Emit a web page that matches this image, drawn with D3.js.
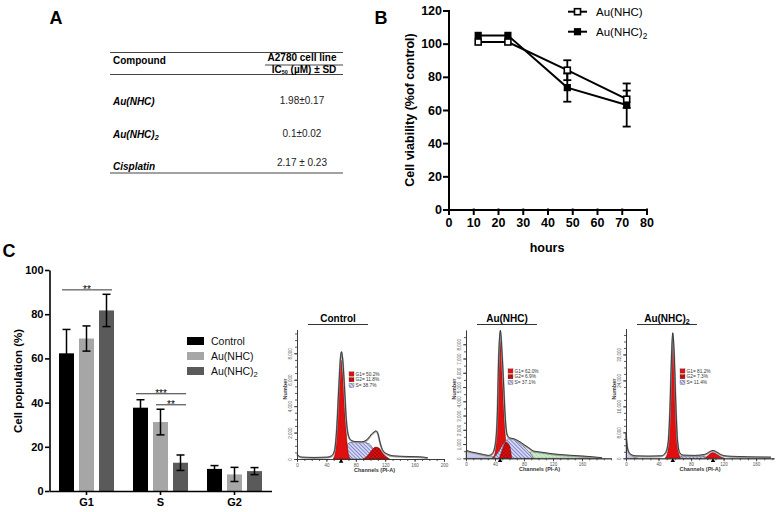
<!DOCTYPE html>
<html>
<head>
<meta charset="utf-8">
<script src="https://cdn.jsdelivr.net/npm/d3@7"></script>
<style>
  body { margin: 0; background: #fff; }
  svg { font-family: "Liberation Sans", Arial, sans-serif; }
</style>
</head>
<body>
<svg id="fig" width="780" height="512"></svg>
<script>
// ---------- panel A : IC50 table
var compounds = ["Au(NHC)", "Au(NHC)2", "Cisplatin"];
var ic50 = ["1.98±0.17", "0.1±0.02", "2.17 ± 0.23"];

// ---------- panel B : viability over time
var hours = [12, 24, 48, 72];
var viabNHC = [101, 101, 84, 66.5];
var viabNHCerr = [0, 0, 6, 5.2];
var viabNHC2 = [105, 105, 73.5, 63];
var viabNHC2err = [0, 0, 8.5, 13];
var ticksBx = [0, 10, 20, 30, 40, 50, 60, 70, 80];
var ticksBy = [0, 20, 40, 60, 80, 100, 120];

// ---------- panel C : cell cycle distribution
var phases = ["G1", "S", "G2"];
var treatments = ["Control", "Au(NHC)", "Au(NHC)2"];
var popControl = [62.3, 37.7, 10];
var popNHC = [69, 31.2, 7.5];
var popNHC2 = [81.7, 12.8, 9];
var errControl = [10.8, 3.6, 1.5];
var errNHC = [5.7, 5.8, 3.2];
var errNHC2 = [7.3, 3.5, 1.6];
var ticksCy = [0, 20, 40, 60, 80, 100];
// phase, from, to, height (%), stars
var sigMarks = [
  ["G1", "Control", "Au(NHC)2", 91, "**"],
  ["S", "Control", "Au(NHC)2", 44, "***"],
  ["S", "Au(NHC)", "Au(NHC)2", 39, "**"]
];

// ---------- flow cytometry histograms, [channel, count]
var ctrlEnvelope = [[0,350],[2,200],[7,100],[23,75],[41,100],[47,200],[51,580],[54,2200],[57,5500],[59,7500],[60.5,8080],[62,7600],[64.5,5500],[67,3000],[69.5,1840],[73,1410],[79,1280],[88,1260],[96,1460],[101.5,1840],[105,2010],[107.5,2090],[110,1910],[113,1210],[117,580],[123,330],[131,200],[149,150],[167,125],[178,50]];
var ctrlG1 = [[49,0],[52,450],[55,2970],[58,6240],[60,7500],[62,6500],[64.5,3980],[67,1960],[69,700],[71,150],[73,0]];
var ctrlS = [[58.7,0],[65.5,580],[70,1200],[74.5,1260],[90,1260],[98,1160],[106,580],[113,150],[117,0]];
var ctrlG2 = [[90,0],[96,250],[101.5,650],[107,900],[111.5,830],[116.5,450],[122,150],[126,0]];
var ctrlPct = ["G1= 50.2%", "G2= 11.8%", "S= 38.7%"];

var nhcEnvelope = [[0,540],[3,470],[13,350],[24,230],[31,165],[36,280],[40,820],[43,2690],[45,6900],[47.4,8930],[49.7,7360],[52,5030],[54.3,2690],[56.6,1640],[60,1400],[66,1330],[72.7,1170],[79.6,935],[86.5,700],[93.4,470],[102.6,400],[118.7,280],[146,165],[174,70],[187.7,0]];
var nhcG1 = [[36,0],[40,350],[43,2690],[45,5500],[47.4,8300],[49.7,5960],[52,3390],[54.3,1520],[56.6,470],[59,0]];
var nhcS = [[38,0],[45,470],[52,1050],[59,1380],[66,1330],[72.7,1100],[82,700],[88.8,350],[93.4,0]];
var nhcG2 = [[46,0],[50,600],[55,1150],[60,900],[63,0]];
var nhcDebris = [[0,540],[3,470],[13,350],[24,230],[33.6,165],[40,70],[43,0]];
var nhcAggr = [[82,0],[86.5,350],[92,470],[102.6,400],[118.7,280],[146,165],[174,70],[185,0]];
var nhcPct = ["G1= 62.0%", "G2= 6.9%", "S= 37.1%"];

var nhc2Envelope = [[0,7700],[1.2,4100],[2.9,2050],[6.1,1030],[11,620],[27.3,510],[43.7,620],[48.6,1540],[51.8,4620],[53.9,13850],[55.9,30270],[57.5,38500],[59.2,32300],[61.2,16900],[63.2,5640],[66.1,1540],[70.2,820],[84.5,720],[96.7,1030],[102.8,1850],[106.9,2260],[111,1850],[116.3,1030],[125.3,510],[149.7,310],[178.3,205]];
var nhc2G1 = [[47.7,0],[51,1540],[53.4,9750],[55.9,27200],[57.5,35900],[59.2,30300],[61.6,13850],[64,3080],[66.5,300],[67.3,0]];
var nhc2S = [[64,0],[68,720],[92.6,620],[100.8,300],[103,0]];
var nhc2G2 = [[97.5,0],[101.6,1030],[106.9,1750],[111,1330],[116.3,510],[121.2,0]];
var nhc2Debris = [[0,7180],[1.6,3590],[3.7,1740],[6.9,720],[11,300],[15.1,0]];
var nhc2Pct = ["G1= 81.2%", "G2= 7.3%", "S= 11.4%"];

var svg = d3.select("#fig");

// "Au(NHC)2" -> Au(NHC) with subscript 2
function addLabel(sel, label) {
  var m = /^(.*\))2$/.exec(label);
  if (m) {
    sel.text(m[1]);
    sel.append("tspan").attr("font-size", "0.72em").attr("dy", "0.35em").text("2");
  } else {
    sel.text(label);
  }
  return sel;
}

// patterns for the histogram fills
var defs = svg.append("defs");
var pBlue = defs.append("pattern").attr("id", "hatchBlue").attr("width", 2.6).attr("height", 2.6)
  .attr("patternUnits", "userSpaceOnUse").attr("patternTransform", "rotate(-45)");
pBlue.append("rect").attr("width", 2.6).attr("height", 2.6).attr("fill", "#d4d6f2");
pBlue.append("line").attr("x1", 0).attr("y1", 0).attr("x2", 0).attr("y2", 2.6).attr("stroke", "#3b45b0").attr("stroke-width", 1);
var pRed = defs.append("pattern").attr("id", "crossRed").attr("width", 2.6).attr("height", 2.6)
  .attr("patternUnits", "userSpaceOnUse").attr("patternTransform", "rotate(45)");
pRed.append("rect").attr("width", 2.6).attr("height", 2.6).attr("fill", "#e01010");
pRed.append("line").attr("x1", 0).attr("y1", 0).attr("x2", 0).attr("y2", 2.6).attr("stroke", "#7a0000").attr("stroke-width", 0.8);
pRed.append("line").attr("x1", 0).attr("y1", 0).attr("x2", 2.6).attr("y2", 0).attr("stroke", "#7a0000").attr("stroke-width", 0.8);
var pGreen = defs.append("pattern").attr("id", "hatchGreen").attr("width", 2.6).attr("height", 2.6)
  .attr("patternUnits", "userSpaceOnUse").attr("patternTransform", "rotate(-45)");
pGreen.append("rect").attr("width", 2.6).attr("height", 2.6).attr("fill", "#cdeecb");
pGreen.append("line").attr("x1", 0).attr("y1", 0).attr("x2", 0).attr("y2", 2.6).attr("stroke", "#7cc47a").attr("stroke-width", 0.8);

// panel letters
[["A", 56, 24], ["B", 381, 24], ["C", 9, 257]].forEach(function (p) {
  svg.append("text").attr("x", p[1]).attr("y", p[2]).attr("text-anchor", "middle")
    .attr("font-size", 18).attr("font-weight", "bold").text(p[0]);
});

// ================= panel A
var gA = svg.append("g");
var rowY = d3.scalePoint().domain(compounds).range([105, 170]);
[[110, 343, 52.5], [265, 343, 65], [110, 343, 74.5], [110, 343, 173]].forEach(function (l) {
  gA.append("line").attr("x1", l[0]).attr("x2", l[1]).attr("y1", l[2]).attr("y2", l[2])
    .attr("stroke", "#444").attr("stroke-width", 1);
});
gA.append("text").attr("x", 113).attr("y", 64).attr("font-size", 10).attr("font-weight", "bold").text("Compound");
gA.append("text").attr("x", 302).attr("y", 61).attr("text-anchor", "middle")
  .attr("font-size", 10).attr("font-weight", "bold").text("A2780 cell line");
var icHead = gA.append("text").attr("x", 304).attr("y", 72.5).attr("text-anchor", "middle")
  .attr("font-size", 10).attr("font-weight", "bold");
icHead.append("tspan").text("IC");
icHead.append("tspan").attr("font-size", 5.5).attr("dy", 1).text("50");
icHead.append("tspan").attr("dy", -1).text(" (µM) ± SD");
compounds.forEach(function (c, i) {
  addLabel(gA.append("text").attr("x", 113).attr("y", rowY(c))
    .attr("font-size", 10).attr("font-weight", "bold").attr("font-style", "italic"), c);
  gA.append("text").attr("x", 302).attr("y", rowY(c) - (i === 2 ? 4 : 1)).attr("text-anchor", "middle")
    .attr("font-size", 10).attr("fill", "#222").text(ic50[i]);
});

// ================= panel B
var xB = d3.scaleLinear().domain([0, 80]).range([448.5, 646.5]);
var yB = d3.scaleLinear().domain([0, 120]).range([209.5, 10.5]);
var gB = svg.append("g");
gB.append("g").attr("transform", "translate(0,209.5)")
  .call(d3.axisBottom(xB).tickValues(ticksBx).tickSize(4.5).tickPadding(4.5).tickSizeOuter(0));
gB.append("g").attr("transform", "translate(448.5,0)")
  .call(d3.axisLeft(yB).tickValues(ticksBy).tickSize(4.5).tickPadding(2).tickSizeOuter(0));
gB.selectAll(".domain, .tick line").attr("stroke", "#000").attr("stroke-width", 2).attr("stroke-linecap", "square");
gB.selectAll(".tick text").attr("font-size", 12.5).attr("font-weight", "bold")
  .attr("font-family", "Liberation Sans, Arial, sans-serif").attr("fill", "#000");
gB.append("text").attr("x", 547).attr("y", 252).attr("text-anchor", "middle")
  .attr("font-size", 12.5).attr("font-weight", "bold").text("hours");
gB.append("text").attr("transform", "translate(414,110) rotate(-90)").attr("text-anchor", "middle")
  .attr("font-size", 12.5).attr("font-weight", "bold").text("Cell viability (%of control)");

var seriesB = [
  { name: "Au(NHC)2", vals: viabNHC2, err: viabNHC2err, open: false },
  { name: "Au(NHC)", vals: viabNHC, err: viabNHCerr, open: true }
];
var lineB = d3.line().x(function (d, i) { return xB(hours[i]); }).y(function (d) { return yB(d); });
seriesB.forEach(function (s) {
  gB.append("path").datum(s.vals).attr("d", lineB).attr("fill", "none").attr("stroke", "#000").attr("stroke-width", 2);
});
seriesB.forEach(function (s) {
  s.vals.forEach(function (v, i) {
    if (!s.err[i]) return;
    var cx = xB(hours[i]), y1 = yB(v - s.err[i]), y2 = yB(v + s.err[i]);
    gB.append("line").attr("x1", cx).attr("x2", cx).attr("y1", y1).attr("y2", y2).attr("stroke", "#000").attr("stroke-width", 1.8);
    [y1, y2].forEach(function (yy) {
      gB.append("line").attr("x1", cx - 4).attr("x2", cx + 4).attr("y1", yy).attr("y2", yy).attr("stroke", "#000").attr("stroke-width", 1.8);
    });
  });
});
function markerB(g, cx, cy, open) {
  if (open) {
    g.append("rect").attr("x", cx - 3).attr("y", cy - 3).attr("width", 6).attr("height", 6)
      .attr("fill", "#fff").attr("stroke", "#000").attr("stroke-width", 1.6);
  } else {
    g.append("rect").attr("x", cx - 3.6).attr("y", cy - 3.6).attr("width", 7.2).attr("height", 7.2).attr("fill", "#000");
  }
}
seriesB.forEach(function (s) {
  s.vals.forEach(function (v, i) { markerB(gB, xB(hours[i]), yB(v), s.open); });
});
// legend B
[seriesB[1], seriesB[0]].forEach(function (s, i) {
  var ly = 11.7 + i * 20;
  gB.append("line").attr("x1", 568).attr("x2", 587).attr("y1", ly).attr("y2", ly).attr("stroke", "#000").attr("stroke-width", 2);
  markerB(gB, 577.5, ly, s.open);
  addLabel(gB.append("text").attr("x", 596).attr("y", ly + 4).attr("font-size", 11.5), s.name);
});

// ================= panel C
var xC = d3.scaleBand().domain(phases).range([49.5, 271.5]);
var xC1 = d3.scaleBand().domain(treatments).range([0, 55]).paddingInner(0.25);
var yC = d3.scaleLinear().domain([0, 100]).range([491, 270]);
var colorC = d3.scaleOrdinal().domain(treatments).range(["#000000", "#a6a6a6", "#5a5a5a"]);
var popC = { "Control": popControl, "Au(NHC)": popNHC, "Au(NHC)2": popNHC2 };
var errC = { "Control": errControl, "Au(NHC)": errNHC, "Au(NHC)2": errNHC2 };
var groupOff = (xC.bandwidth() - 55) / 2;
function barX(p, t) { return xC(p) + groupOff + xC1(t); }

var gC = svg.append("g");
phases.forEach(function (p, i) {
  treatments.forEach(function (t) {
    var v = popC[t][i];
    gC.append("rect").attr("x", barX(p, t)).attr("y", yC(v)).attr("width", xC1.bandwidth())
      .attr("height", yC(0) - yC(v)).attr("fill", colorC(t));
  });
});
phases.forEach(function (p, i) {
  treatments.forEach(function (t) {
    var v = popC[t][i], e = errC[t][i];
    var cx = barX(p, t) + xC1.bandwidth() / 2;
    gC.append("line").attr("x1", cx).attr("x2", cx).attr("y1", yC(v - e)).attr("y2", yC(v + e)).attr("stroke", "#000").attr("stroke-width", 1.5);
    [v - e, v + e].forEach(function (vv) {
      gC.append("line").attr("x1", cx - 4).attr("x2", cx + 4).attr("y1", yC(vv)).attr("y2", yC(vv)).attr("stroke", "#000").attr("stroke-width", 1.5);
    });
  });
});
gC.append("g").attr("transform", "translate(0,491)")
  .call(d3.axisBottom(xC).tickSize(4).tickPadding(3).tickSizeOuter(0));
gC.append("g").attr("transform", "translate(49.5,0)")
  .call(d3.axisLeft(yC).tickValues(ticksCy).tickSize(4.5).tickPadding(1.5).tickSizeOuter(0));
gC.selectAll(".domain, .tick line").attr("stroke", "#000").attr("stroke-width", 1.6);
gC.selectAll(".tick text").attr("font-size", 11).attr("font-weight", "bold")
  .attr("font-family", "Liberation Sans, Arial, sans-serif").attr("fill", "#000");
gC.append("text").attr("transform", "translate(22,381) rotate(-90)").attr("text-anchor", "middle")
  .attr("font-size", 11.5).attr("font-weight", "bold").text("Cell population (%)");
// significance brackets
sigMarks.forEach(function (s) {
  var x1 = barX(s[0], s[1]) + 3, x2 = barX(s[0], s[2]) + xC1.bandwidth() - 2, yy = yC(s[3]);
  gC.append("line").attr("x1", x1).attr("x2", x2).attr("y1", yy).attr("y2", yy).attr("stroke", "#333").attr("stroke-width", 1);
  gC.append("text").attr("x", (x1 + x2) / 2).attr("y", yy + 3).attr("text-anchor", "middle")
    .attr("font-size", 10).attr("fill", "#000").text(s[4]);
});
// legend C
treatments.forEach(function (t, i) {
  var ly = 341 + i * 15;
  gC.append("rect").attr("x", 187).attr("y", ly - 4).attr("width", 17).attr("height", 8).attr("fill", colorC(t));
  addLabel(gC.append("text").attr("x", 211).attr("y", ly + 3.7).attr("font-size", 10.5).attr("fill", "#111"), t);
});

// ================= flow cytometry histograms
function drawHist(h) {
  var x = d3.scaleLinear().domain(h.xDomain).range(h.xRange);
  var y = d3.scaleLinear().domain(h.yDomain).range(h.yRange);
  var g = svg.append("g");
  var base = h.yRange[0];

  var area = d3.area().curve(d3.curveMonotoneX)
    .x(function (d) { return x(d[0]); }).y0(base).y1(function (d) { return y(d[1]); });
  h.parts.forEach(function (p) {
    g.append("path").datum(p[0]).attr("d", area).attr("fill", p[1])
      .attr("stroke", p[2]).attr("stroke-width", 0.5);
  });
  var line = d3.line().curve(d3.curveMonotoneX)
    .x(function (d) { return x(d[0]); }).y(function (d) { return y(d[1]); });
  g.append("path").datum(h.envelope).attr("d", line).attr("fill", "none").attr("stroke", "#9a9a9a").attr("stroke-width", 1.8);
  g.append("path").datum(h.envelope).attr("d", line).attr("transform", "translate(0,-0.6)")
    .attr("fill", "none").attr("stroke", "#111").attr("stroke-width", 0.7);

  // axes: minor ticks, then labelled ticks
  var ax = g.append("g").attr("transform", "translate(0," + base + ")");
  ax.call(d3.axisBottom(x).tickValues(d3.range(h.xDomain[0], h.xDomain[1] + 0.1, 10)).tickSize(2).tickFormat("").tickSizeOuter(0));
  var axM = g.append("g").attr("transform", "translate(0," + base + ")");
  axM.call(d3.axisBottom(x).tickValues(h.xTicks).tickSize(3).tickPadding(2).tickSizeOuter(0));
  var ay = g.append("g").attr("transform", "translate(" + h.xRange[0] + ",0)");
  ay.call(d3.axisLeft(y).tickValues(d3.range(0, h.yDomain[1], h.yMinor)).tickSize(2).tickFormat("").tickSizeOuter(0));
  var ayM = g.append("g").attr("transform", "translate(" + h.xRange[0] + ",0)");
  ayM.call(d3.axisLeft(y).tickValues(h.yTicks).tickSize(3).tickSizeOuter(0));
  ayM.selectAll(".tick text").attr("x", 0).attr("dy", 0).attr("text-anchor", "middle")
    .attr("transform", "translate(-5,0) rotate(-90)");
  g.selectAll(".domain, .tick line").attr("stroke", "#333").attr("stroke-width", 0.8);
  g.selectAll(".tick text").attr("font-size", 4.5).attr("fill", "#555")
    .attr("font-family", "Liberation Sans, Arial, sans-serif");

  // G1 / G2 markers under the axis
  h.marks.forEach(function (m) {
    g.append("path").attr("d", d3.symbol(d3.symbolTriangle).size(9)())
      .attr("transform", "translate(" + x(m) + "," + (base + 2.5) + ")").attr("fill", "#000");
  });

  var midX = (h.xRange[0] + h.xRange[1]) / 2;
  g.append("text").attr("x", midX + h.labelShift).attr("y", base + 13).attr("text-anchor", "middle")
    .attr("font-size", 5.5).attr("font-weight", "bold").attr("fill", "#333").text("Channels (PI-A)");
  g.append("text").attr("transform", "translate(" + (h.xRange[0] - 10) + ",389) rotate(-90)")
    .attr("text-anchor", "middle").attr("font-size", 5.5).attr("font-weight", "bold").attr("fill", "#333").text("Number");

  // title with underline
  addLabel(g.append("text").attr("x", h.title[1]).attr("y", 321.5).attr("text-anchor", "middle")
    .attr("font-size", 10).attr("font-weight", "bold"), h.title[0]);
  g.append("line").attr("x1", h.title[1] - 30).attr("x2", h.title[1] + 30).attr("y1", 324.5).attr("y2", 324.5)
    .attr("stroke", "#333").attr("stroke-width", 1);

  // phase legend
  var fills = ["#e01010", "url(#crossRed)", "url(#hatchBlue)"];
  h.pct.forEach(function (t, i) {
    var ly = h.legend[1] + i * 5.7;
    g.append("rect").attr("x", h.legend[0]).attr("y", ly - 2.2).attr("width", 5).attr("height", 4.4)
      .attr("fill", fills[i]).attr("stroke", "#555").attr("stroke-width", 0.3);
    g.append("text").attr("x", h.legend[0] + 6.5).attr("y", ly + 1.7).attr("font-size", 4.8).attr("fill", "#333").text(t);
  });
}

drawHist({
  xDomain: [0, 200], xRange: [297, 444], yDomain: [0, 9800], yRange: [459, 329.5],
  xTicks: [0, 40, 80, 120, 160, 200], yTicks: [0, 2000, 4000, 6000, 8000], yMinor: 500,
  envelope: ctrlEnvelope,
  parts: [[ctrlS, "url(#hatchBlue)", "#333"], [ctrlG2, "url(#crossRed)", "#600"], [ctrlG1, "#e01010", "#600"]],
  marks: [60], labelShift: 4, title: ["Control", 338], pct: ctrlPct, legend: [349, 374]
});
drawHist({
  xDomain: [0, 200], xRange: [466, 611], yDomain: [0, 9000], yRange: [458.3, 330],
  xTicks: [0, 40, 80, 120, 160], yTicks: [0, 1000, 2000, 3000, 4000, 5000, 6000, 7000, 8000], yMinor: 500,
  envelope: nhcEnvelope,
  parts: [[nhcDebris, "#c9c9ee", "#555"], [nhcAggr, "url(#hatchGreen)", "#555"], [nhcG1, "#e01010", "#600"],
          [nhcS, "url(#hatchBlue)", "#333"], [nhcG2, "url(#crossRed)", "#600"]],
  marks: [47], labelShift: 1, title: ["Au(NHC)", 507], pct: nhcPct, legend: [508, 371]
});
drawHist({
  xDomain: [0, 182], xRange: [626, 774], yDomain: [0, 40000], yRange: [458.3, 328.5],
  xTicks: [0, 40, 80, 120, 160], yTicks: [0, 8000, 16000, 24000, 32000], yMinor: 2000,
  envelope: nhc2Envelope,
  parts: [[nhc2Debris, "#c9c9ee", "#555"], [nhc2S, "url(#hatchBlue)", "#333"], [nhc2G2, "#e01010", "#600"], [nhc2G1, "#e01010", "#600"]],
  marks: [57.5, 107], labelShift: 0, title: ["Au(NHC)2", 667], pct: nhc2Pct, legend: [680, 371]
});
</script>
</body>
</html>
